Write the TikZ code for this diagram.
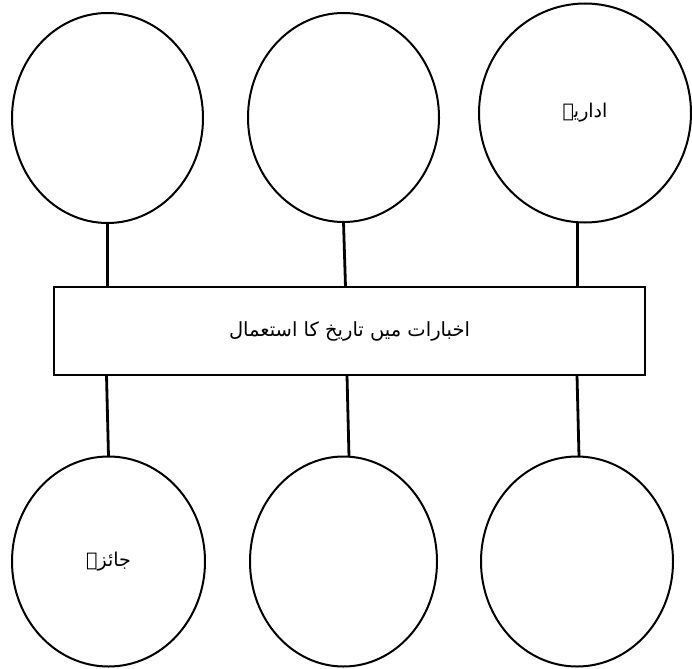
\documentclass[tikz,border=0pt]{standalone}
\usepackage{fontspec}
\newfontfamily\urdu[Script=Arabic]{DejaVu Sans}
\TeXXeTstate=1
\usetikzlibrary{shapes.geometric}
\tikzset{
  bubble/.style={ellipse, draw, line width=2pt, inner sep=0pt, outer sep=0pt, font=\urdu\fontsize{19}{22}\selectfont},
  titlebox/.style={rectangle, draw, line width=1.6pt, inner sep=0pt, outer sep=0pt, font=\urdu\fontsize{19.5}{23}\selectfont},
  conn/.style={line width=2.8pt}
}
\begin{document}
\begin{tikzpicture}[x=1pt,y=-1pt]
\useasboundingbox (0,0) rectangle (692,668);
\node[bubble, minimum width=191pt, minimum height=210pt] (t1) at (107.5,118) {};
\node[bubble, minimum width=191pt, minimum height=209pt] (t2) at (343.5,117.5) {};
\node[bubble, minimum width=212pt, minimum height=219pt] (t3) at (585,113) {\beginR اداریہ\endR};
\node[titlebox, minimum width=591pt, minimum height=88pt] (box) at (349.5,331) {\beginR اخبارات میں تاریخ کا استعمال\endR};
\node[bubble, minimum width=193pt, minimum height=210pt] (b1) at (108.5,561.5) {\beginR جائزہ\endR};
\node[bubble, minimum width=187pt, minimum height=210pt] (b2) at (343.5,561.5) {};
\node[bubble, minimum width=192pt, minimum height=210pt] (b3) at (577,561.5) {};
\draw[conn] (t1.south) -- (t1.south |- box.north);
\draw[conn] (t2.south) -- ([xshift=2pt]t2.south |- box.north);
\draw[conn] (t3.266) -- (t3.266 |- box.north);
\draw[conn] (b1.north) -- ([xshift=-2pt]b1.north |- box.south);
\draw[conn] (b2.87) -- ([xshift=-2pt]b2.87 |- box.south);
\draw[conn] ([xshift=2pt]b3.north) -- (b3.north |- box.south);
\end{tikzpicture}
\end{document}
